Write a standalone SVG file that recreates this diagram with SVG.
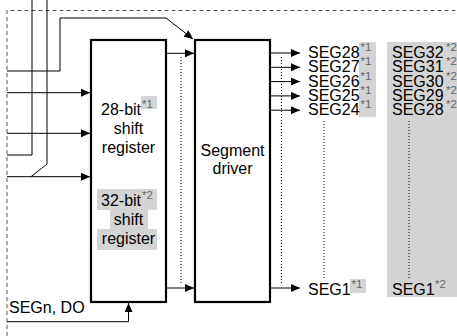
<svg xmlns="http://www.w3.org/2000/svg" width="457" height="336" viewBox="0 0 457 336">
<style>
text{font-family:"Liberation Sans",Arial,sans-serif;font-size:16px;fill:#000}
.sup{font-size:11.5px;fill:#666}
.box{fill:#fff;stroke:#000;stroke-width:2.2}
.w{fill:none;stroke:#000;stroke-width:1}
.dot{fill:none;stroke:#000;stroke-width:1;stroke-dasharray:1 2}
.dash{fill:none;stroke:#555;stroke-width:1;stroke-dasharray:4 3}
.hl{fill:#d4d4d4}
</style>
<defs>
<marker id="ah" markerUnits="userSpaceOnUse" markerWidth="10" markerHeight="8" refX="9" refY="4" orient="auto">
<path d="M0,0 L9,4 L0,8 z" fill="#000"/>
</marker>
</defs>
<g id="frame">
<path class="dash" d="M7,336 V10.5 H457"/>
</g>
<g id="column2">
<rect class="hl" x="387" y="42" width="70" height="255"/>
<text x="392" y="58">SEG32<tspan class="sup" x="446" y="51">*2</tspan></text>
<text x="392" y="72.3">SEG31<tspan class="sup" x="446" y="65.3">*2</tspan></text>
<text x="392" y="86.6">SEG30<tspan class="sup" x="446" y="79.6">*2</tspan></text>
<text x="392" y="100.9">SEG29<tspan class="sup" x="446" y="93.9">*2</tspan></text>
<text x="392" y="115.2">SEG28<tspan class="sup" x="446" y="108.2">*2</tspan></text>
<path class="dot" d="M409,121 V278"/>
<text x="392" y="295">SEG1<tspan class="sup" x="435" y="288">*2</tspan></text>
</g>
<g id="column1">
<rect class="hl" x="359" y="42" width="17" height="75"/>
<text x="308" y="58">SEG28<tspan class="sup" x="360.5" y="51">*1</tspan></text>
<text x="308" y="72.3">SEG27<tspan class="sup" x="360.5" y="65.3">*1</tspan></text>
<text x="308" y="86.6">SEG26<tspan class="sup" x="360.5" y="79.6">*1</tspan></text>
<text x="308" y="100.9">SEG25<tspan class="sup" x="360.5" y="93.9">*1</tspan></text>
<text x="308" y="115.2">SEG24<tspan class="sup" x="360.5" y="108.2">*1</tspan></text>
<path class="dot" d="M324,121 V278"/>
<rect class="hl" x="350" y="279" width="16" height="14"/>
<text x="308" y="295">SEG1<tspan class="sup" x="351.5" y="288">*1</tspan></text>
</g>
<g id="shift-register">
<rect class="box" x="91" y="40" width="75" height="262"/>
<rect class="hl" x="141" y="96" width="16" height="13"/>
<text x="101" y="115">28-bit<tspan class="sup" x="142" y="107.5">*1</tspan></text>
<text x="128.5" y="134" text-anchor="middle">shift</text>
<text x="128.5" y="153" text-anchor="middle">register</text>
<rect class="hl" x="97" y="189" width="60" height="21"/>
<rect class="hl" x="110" y="210" width="38" height="19"/>
<rect class="hl" x="97" y="229" width="60" height="21"/>
<text x="101" y="206">32-bit<tspan class="sup" x="142" y="198.5">*2</tspan></text>
<text x="128.5" y="225" text-anchor="middle">shift</text>
<text x="128.5" y="244" text-anchor="middle">register</text>
</g>
<g id="segment-driver">
<rect class="box" x="195" y="40" width="75" height="262"/>
<text x="232.5" y="156" text-anchor="middle">Segment</text>
<text x="232.5" y="174" text-anchor="middle">driver</text>
</g>
<g id="label-segn">
<text x="9" y="313">SEGn, DO</text>
</g>
<g id="connectors">
<path class="w" d="M32,0 V155 H7"/>
<path class="w" d="M47,0 V164 L31,176.7"/>
<path class="w" d="M7,71 H60 V18 H166 L193,39" marker-end="url(#ah)"/>
<path class="w" d="M7,92.7 H90" marker-end="url(#ah)"/>
<path class="w" d="M7,133.3 H90" marker-end="url(#ah)"/>
<path class="w" d="M7,176.7 H90" marker-end="url(#ah)"/>
<path class="w" d="M7,321.7 H128.5 V303" marker-end="url(#ah)"/>
<path class="w" d="M167,53.3 H194" marker-end="url(#ah)"/>
<path class="w" d="M167,288 H194" marker-end="url(#ah)"/>
<path class="dot" d="M181,57 V284"/>
<path class="w" d="M271,53 H300" marker-end="url(#ah)"/>
<path class="w" d="M271,67.3 H300" marker-end="url(#ah)"/>
<path class="w" d="M271,81.6 H300" marker-end="url(#ah)"/>
<path class="w" d="M271,95.9 H300" marker-end="url(#ah)"/>
<path class="w" d="M271,110.2 H300" marker-end="url(#ah)"/>
<path class="w" d="M271,288 H300" marker-end="url(#ah)"/>
<path class="dot" d="M281.5,57 V284"/>
</g>
</svg>
